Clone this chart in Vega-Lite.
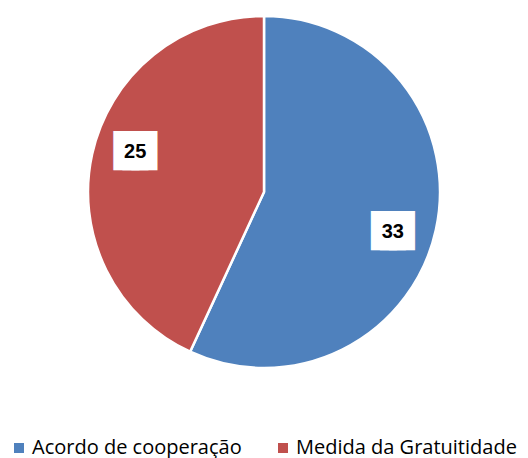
{
  "$schema": "https://vega.github.io/schema/vega-lite/v6.json",
  "autosize": "none",
  "width": 528,
  "height": 384,
  "padding": {"top": 0, "left": 0, "right": 0, "bottom": 74},
  "background": "white",
  "config": {"view": {"stroke": null}},
  "data": {"values": [
    {"categoria": "Acordo de cooperação", "valor": 33},
    {"categoria": "Medida da Gratuitidade", "valor": 25}
  ]},
  "resolve": {"scale": {"theta": "independent"}},
  "layer": [
    {
      "mark": {"type": "arc", "outerRadius": 176, "stroke": "white", "strokeWidth": 2.5},
      "encoding": {
        "theta": {"field": "valor", "type": "quantitative", "stack": true},
        "order": {"field": "categoria", "sort": "ascending"},
        "color": {
          "field": "categoria", "type": "nominal",
          "scale": {"domain": ["Acordo de cooperação", "Medida da Gratuitidade"], "range": ["#4F81BD", "#C0504D"]},
          "legend": {
            "title": null, "orient": "none", "legendX": 9, "legendY": 438,
            "direction": "horizontal", "symbolType": "square", "symbolSize": 100,
            "labelFont": "Open Sans", "labelFontSize": 20, "labelColor": "#000000", "labelLimit": 400,
            "columnPadding": 31, "labelOffset": 3, "symbolStrokeWidth": 0
          }
        }
      }
    },
    {
      "layer": [
        {"mark": {"type": "text", "radius": 135, "text": "█", "dx": -9, "font": "DejaVu Sans", "fontSize": 33, "fill": "white", "baseline": "middle", "align": "center"}},
        {"mark": {"type": "text", "radius": 135, "text": "█", "dx": 0, "font": "DejaVu Sans", "fontSize": 33, "fill": "white", "baseline": "middle", "align": "center"}},
        {"mark": {"type": "text", "radius": 135, "text": "█", "dx": 9, "font": "DejaVu Sans", "fontSize": 33, "fill": "white", "baseline": "middle", "align": "center"}},
        {
          "mark": {"type": "text", "radius": 135, "font": "Liberation Sans", "fontWeight": "bold", "fontSize": 20, "fill": "black", "baseline": "middle", "align": "center"},
          "encoding": {"text": {"field": "valor", "type": "quantitative"}}
        }
      ],
      "encoding": {
        "theta": {"field": "valor", "type": "quantitative", "stack": true, "scale": {"range": [0.0873, 6.3705]}},
        "order": {"field": "categoria", "sort": "ascending"}
      }
    }
  ]
}
